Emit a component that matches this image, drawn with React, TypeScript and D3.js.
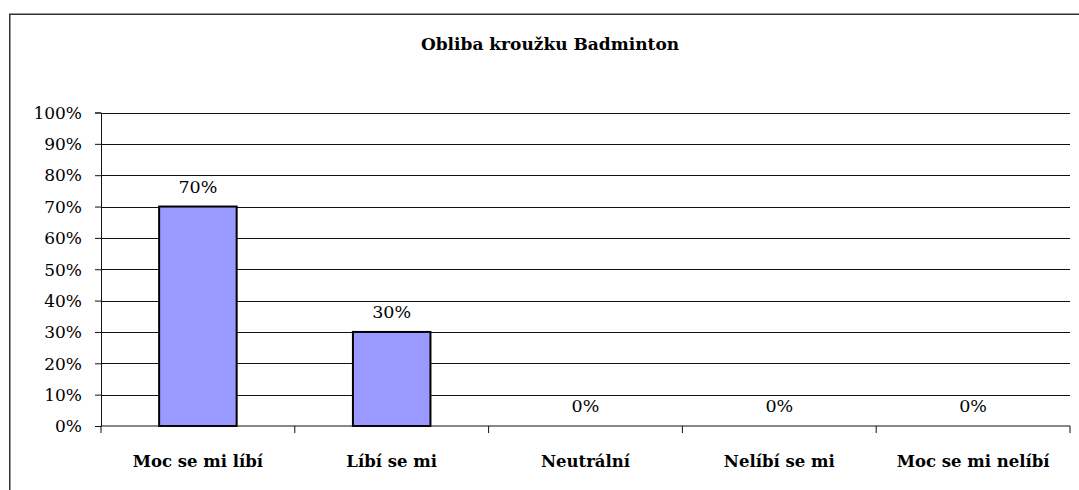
import React, { useEffect, useRef } from 'react';
import * as d3 from 'd3';

const chartTitle = 'Obliba kroužku Badminton';
const categories = ['Moc se mi líbí', 'Líbí se mi', 'Neutrální', 'Nelíbí se mi', 'Moc se mi nelíbí'];
const shares = [0.7, 0.3, 0, 0, 0];
const yTicks = [0, 0.1, 0.2, 0.3, 0.4, 0.5, 0.6, 0.7, 0.8, 0.9, 1];

const width = 1079;
const height = 490;
const serif = "'DejaVu Serif', serif";

export default function App() {
  const ref = useRef<SVGSVGElement | null>(null);

  useEffect(() => {
    const svg = d3.select(ref.current);
    svg.selectAll('*').remove();

    const left = 101;
    const right = 1070;
    const top = 112.5;
    const bottom = 426;

    const x = d3
      .scaleBand<string>()
      .domain(categories)
      .range([left, right])
      .paddingInner(0.6)
      .paddingOuter(0.3);
    const step = x.step();
    const y = d3.scaleLinear().domain([0, 1]).range([bottom, top]);
    const pct = d3.format('.0%');

    // outer chart frame (cut off at right and bottom)
    svg
      .append('path')
      .attr('d', `M9.75,${height + 5}V14.25H${width + 5}`)
      .attr('fill', 'none')
      .attr('stroke', '#333')
      .attr('stroke-width', 1.5);

    svg
      .append('text')
      .attr('x', 550)
      .attr('y', 50)
      .attr('text-anchor', 'middle')
      .style('font-family', serif)
      .attr('font-weight', 'bold')
      .attr('font-size', 17)
      .text(chartTitle);

    // gridlines
    svg
      .append('g')
      .attr('transform', `translate(${left},0)`)
      .selectAll('line')
      .data(yTicks.filter((d) => d > 0))
      .join('line')
      .attr('x1', 0)
      .attr('x2', right - left)
      .attr('y1', (d) => Math.round(y(d)) + 0.5)
      .attr('y2', (d) => Math.round(y(d)) + 0.5)
      .attr('stroke', '#111')
      .attr('stroke-width', 1);

    // y axis
    const yAxis = d3
      .axisLeft(y)
      .tickValues(yTicks)
      .tickFormat((d) => pct(d as number))
      .tickSize(6)
      .tickPadding(13);

    svg
      .append('g')
      .attr('transform', `translate(${left},0)`)
      .call(yAxis)
      .call((g) => g.attr('font-family', null).attr('font-size', null))
      .call((g) => g.select('.domain').attr('stroke', '#111'))
      .call((g) => g.selectAll('.tick line').attr('stroke', '#111'))
      .call((g) =>
        g
          .selectAll('.tick text')
          .style('font-family', serif)
          .style('font-size', '17px')
          .attr('fill', '#000')
          .attr('dy', '0.34em')
      );

    // bars
    svg
      .append('g')
      .selectAll('rect')
      .data(shares)
      .join('rect')
      .attr('x', (_, i) => x(categories[i])!)
      .attr('y', (d) => y(d))
      .attr('width', x.bandwidth())
      .attr('height', (d) => bottom - y(d))
      .attr('fill', '#9999ff')
      .attr('stroke', '#000')
      .attr('stroke-width', 2);

    // value labels
    svg
      .append('g')
      .selectAll('text')
      .data(shares)
      .join('text')
      .attr('x', (_, i) => x(categories[i])! + x.bandwidth() / 2)
      .attr('y', (d) => y(d) - 14)
      .attr('text-anchor', 'middle')
      .style('font-family', serif)
      .attr('font-size', 17.5)
      .text((d) => pct(d));

    // x axis line + category boundary ticks
    svg
      .append('line')
      .attr('x1', left)
      .attr('x2', right)
      .attr('y1', bottom)
      .attr('y2', bottom)
      .attr('stroke', '#111');

    svg
      .append('g')
      .selectAll('line')
      .data(d3.range(categories.length + 1))
      .join('line')
      .attr('x1', (i) => left + i * step)
      .attr('x2', (i) => left + i * step)
      .attr('y1', bottom)
      .attr('y2', bottom + 7)
      .attr('stroke', '#111');

    svg
      .append('g')
      .selectAll('text')
      .data(categories)
      .join('text')
      .attr('x', (d) => x(d)! + x.bandwidth() / 2)
      .attr('y', bottom + 41)
      .attr('text-anchor', 'middle')
      .style('font-family', serif)
      .attr('font-weight', 'bold')
      .attr('font-size', 16.5)
      .text((d) => d);
  }, []);

  return (
    <div style={{ position: 'absolute', left: 0, top: 0 }}>
      <svg ref={ref} width={width} height={height} style={{ display: 'block', background: '#fff' }} />
    </div>
  );
}
